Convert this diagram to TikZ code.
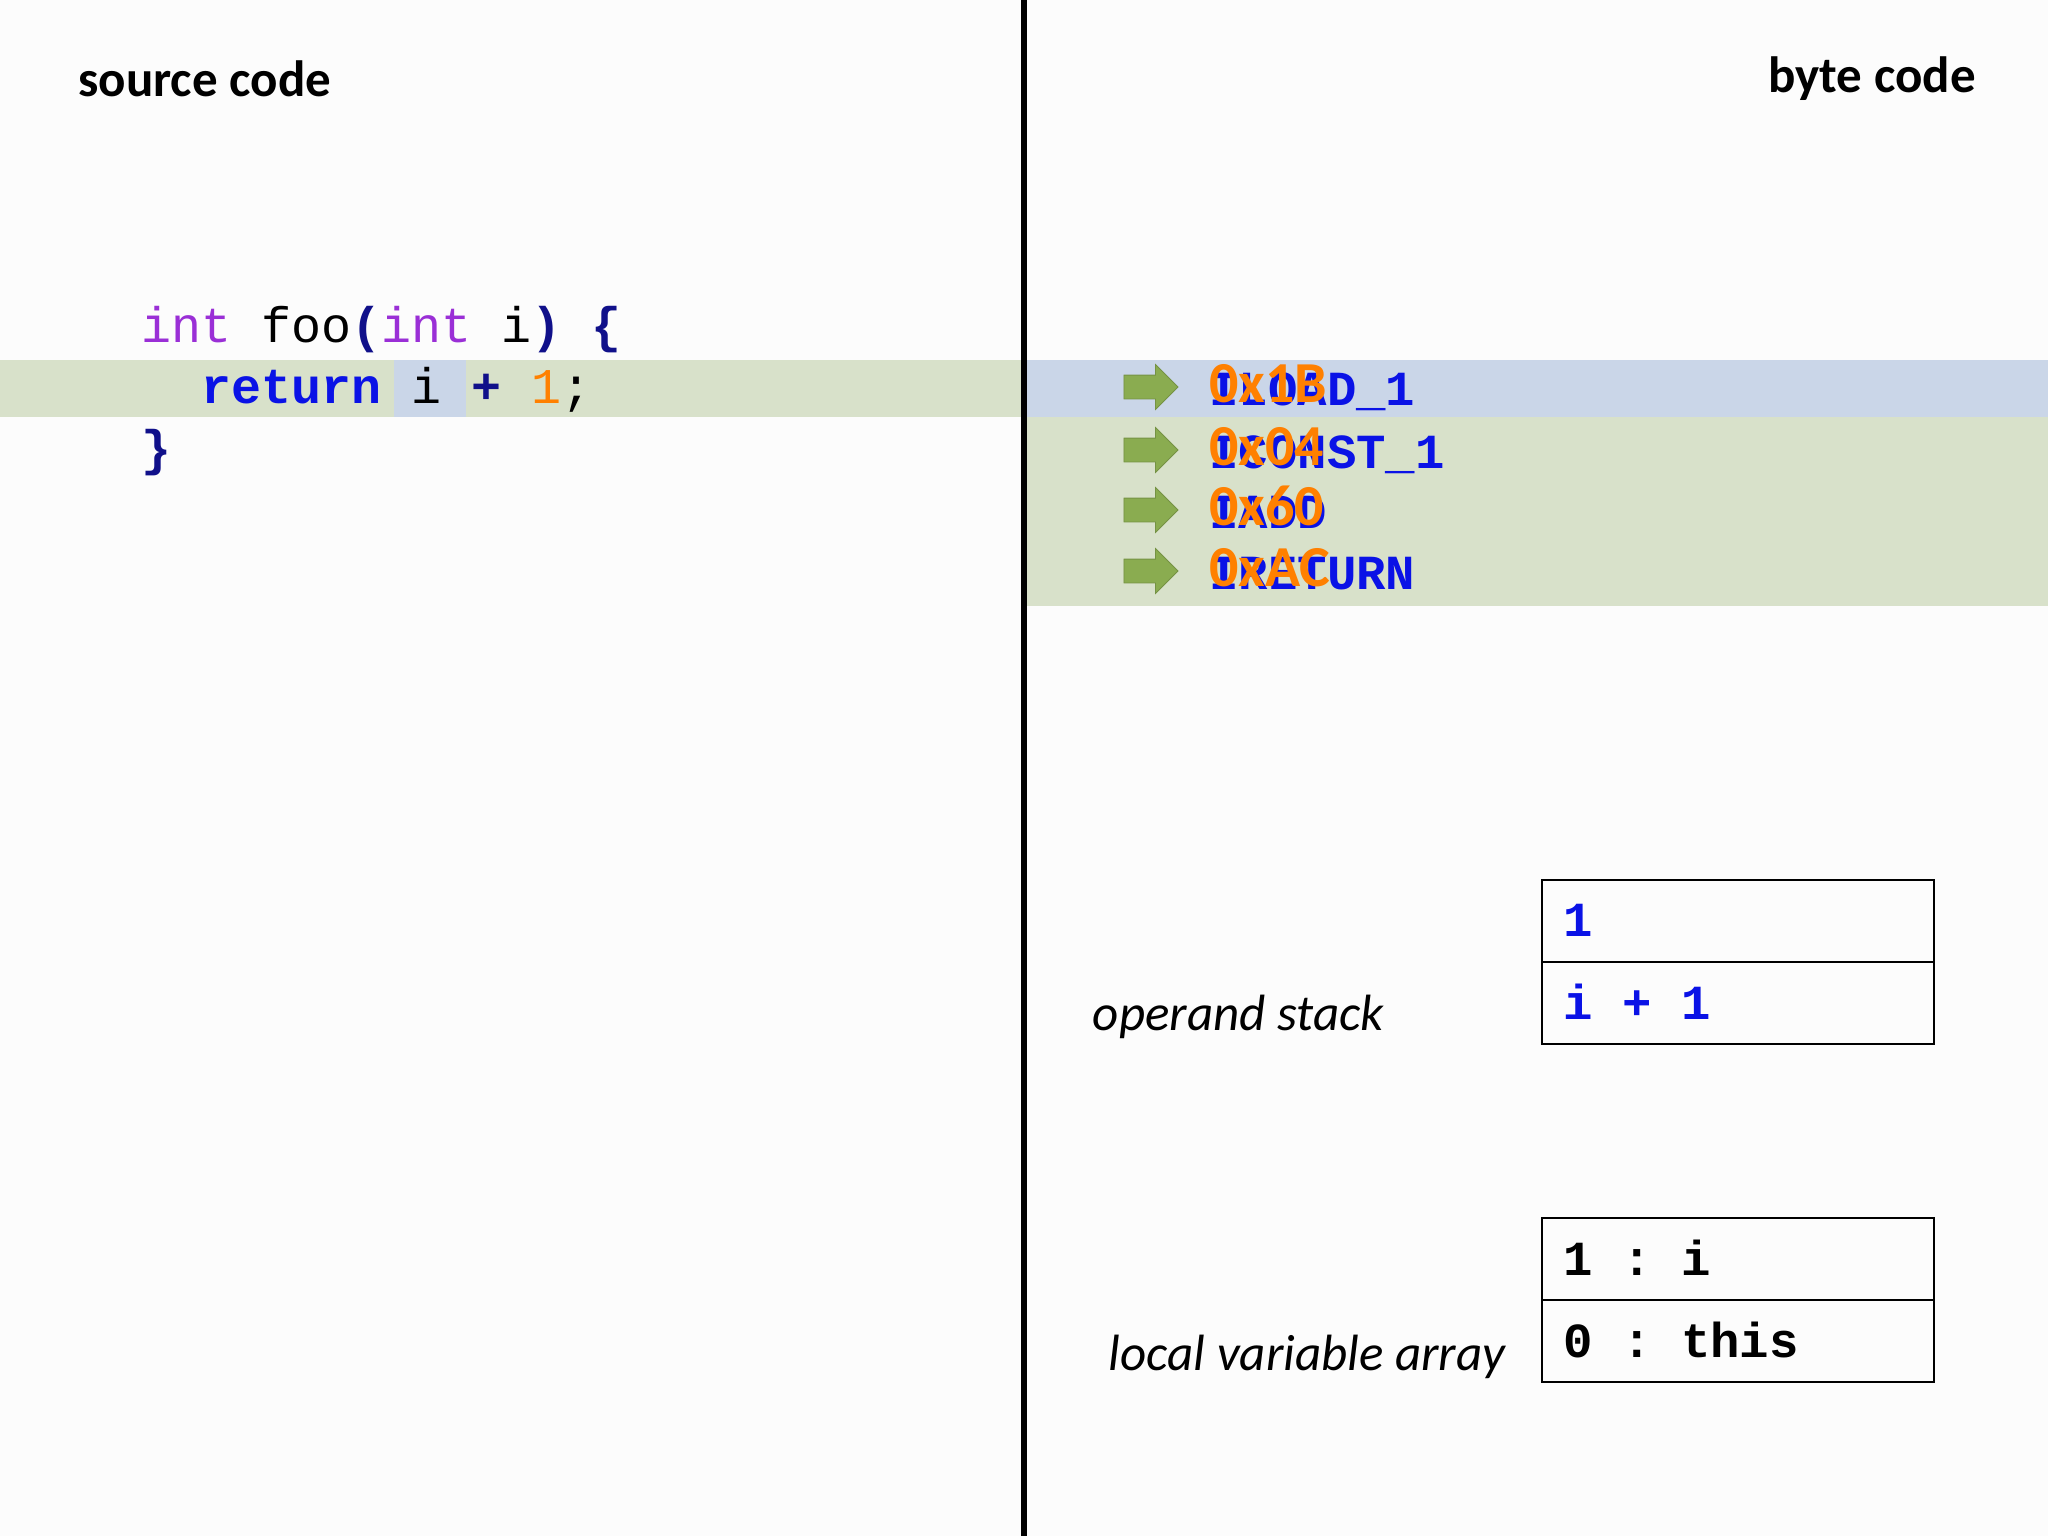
\documentclass[tikz,border=0pt]{standalone}
\usepackage{fontspec}
\setmainfont{Carlito}
\setmonofont{Liberation Mono}
\usetikzlibrary{shapes.arrows}
\definecolor{gband}{HTML}{D8E1CA}
\definecolor{bband}{HTML}{CAD6E8}
\definecolor{kw}{HTML}{9A2FD6}
\definecolor{navy}{HTML}{10108A}
\definecolor{bblue}{HTML}{0A12E6}
\definecolor{orng}{HTML}{FF8000}
\definecolor{arr}{HTML}{8AAC50}
\tikzset{
 head/.style={font=\fontsize{25.5}{30}\selectfont\bfseries, inner sep=0},
 code/.style={font=\fontsize{25}{30}\ttfamily, anchor=base west, inner sep=0},
 bc/.style={font=\fontsize{24.5}{28}\ttfamily\bfseries, text=bblue, anchor=base west, inner sep=0},
 hex/.style={font=\fontsize{29}{34}\bfseries, text=orng, anchor=base west, inner sep=0},
 garrow/.style={single arrow, fill=arr, draw=arr!85!black, line width=0.4pt, minimum height=27pt, text height=0pt, text depth=0pt, text width=0pt, inner ysep=5.75pt, inner xsep=0pt, single arrow head extend=5.25pt},
 cell/.style={draw=black, line width=1.2pt, minimum width=196pt, minimum height=41pt, inner sep=0, anchor=north west},
 celltxt/.style={font=\fontsize{24.5}{28}\ttfamily\bfseries, anchor=west, inner sep=0},
 lab/.style={font=\fontsize{25.5}{30}\itshape, anchor=east, inner sep=0},
}
\begin{document}
\begin{tikzpicture}[x=0.5pt,y=-0.5pt]
\fill[white!99!black] (0,0) rectangle (2048,1536);
\useasboundingbox (0,0) rectangle (2048,1536);
% bands
\fill[gband] (0,360) rectangle (1024,417);
\fill[bband] (394,360) rectangle (466,417);
\fill[bband] (1026,360) rectangle (2048,417);
\fill[gband] (1026,417) rectangle (2048,606);
\draw[line width=3pt] (1024,0) -- (1024,1536);
% headings
\node[head, anchor=west] (h1) at (78,79) {source code};
\node[head, anchor=east] (h2) at (1976,79) {byte code};
% source code
\node[code] (l1) at (141,342) {\textcolor{kw}{int} foo\textcolor{navy}{\textbf{(}}\textcolor{kw}{int} i\textcolor{navy}{\textbf{)}} \textcolor{navy}{\textbf{\{}}};
\node[code] (l2) at (201,403) {\textcolor{bblue}{\textbf{return}} i \textcolor{navy}{\textbf{+}} \textcolor{orng}{1};};
\node[code] (l3) at (141,465) {\textcolor{navy}{\textbf{\}}}};
% bytecode
\foreach \y/\t/\h [count=\i] in {405/ILOAD\_1/0x1B, 468/ICONST\_1/0x04, 528/IADD/0x60, 589/IRETURN/0xAC}{
  \node[garrow] (a\i) at (1145,\y-18) {};
  \node[bc] (b\i) at (1209,\y) {\t};
  \node[hex] (x\i) at (1209,\y-3) {\h};
}
% operand stack
\node[cell] (s1) at (1541,879) {};
\node[cell] (s2) at (1541,961) {};
\node[celltxt, text=bblue] (s1t) at (1563,920) {1};
\node[celltxt, text=bblue] (s2t) at (1563,1002) {i + 1};
\node[lab] (ops) at (1384,1017) {operand stack};
% local var array
\node[cell] (v1) at (1541,1217) {};
\node[cell] (v2) at (1541,1299) {};
\node[celltxt] (v1t) at (1563,1258) {1 : i};
\node[celltxt] (v2t) at (1563,1340) {0 : this};
\node[lab] (lva) at (1506,1357) {local variable array};
\end{tikzpicture}
\end{document}
